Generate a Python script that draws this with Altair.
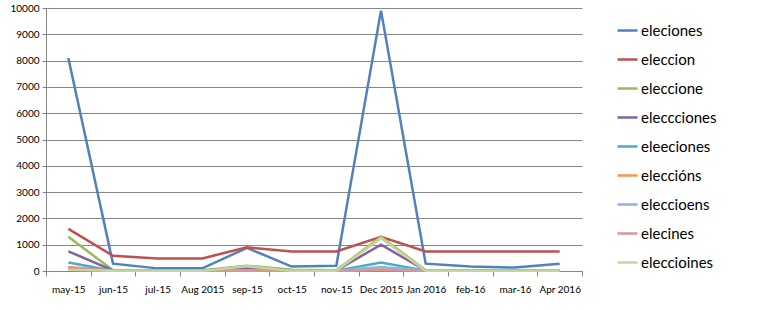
import altair as alt
import pandas as pd

months = ["may-15", "jun-15", "jul-15", "Aug 2015", "sep-15", "oct-15", "nov-15",
          "Dec 2015", "Jan 2016", "feb-16", "mar-16", "Apr 2016"]
series = ["eleciones", "eleccion", "eleccione", "eleccciones", "eleeciones",
          "eleccións", "eleccioens", "elecines", "eleccioines"]
colors = ["#4F81BD", "#C0504D", "#9BBB59", "#8064A2", "#4BACC6",
          "#F79646", "#95B3D7", "#D99694", "#C3D69B"]

eleciones   = [8100, 280, 100, 100, 880, 170, 200, 9900, 280, 170, 130, 280]
eleccion    = [1600, 580, 480, 480, 900, 740, 740, 1300, 740, 740, 740, 740]
eleccione   = [1300, 30, 30, 30, 200, 50, 30, 1300, 30, 30, 30, 30]
eleccciones = [750, 20, 20, 20, 100, 20, 20, 1000, 20, 20, 20, 20]
eleeciones  = [320, 10, 10, 10, 30, 10, 10, 320, 10, 10, 10, 10]
eleccions   = [150, 5, 5, 5, 20, 5, 5, 60, 5, 5, 5, 5]
eleccioens  = [80, 5, 5, 5, 20, 5, 5, 150, 5, 5, 5, 5]
elecines    = [120, 5, 5, 5, 10, 5, 5, 50, 5, 5, 5, 5]
eleccioines = [50, 5, 5, 5, 180, 5, 5, 1250, 5, 5, 5, 5]

values = [eleciones, eleccion, eleccione, eleccciones, eleeciones,
          eleccions, eleccioens, elecines, eleccioines]

rows = []
for s, vals in zip(series, values):
    for m, v in zip(months, vals):
        rows.append({"month": m, "series": s, "value": v})
df = pd.DataFrame(rows)
df["order"] = df["series"].map({s: i for i, s in enumerate(series)})

font = "Lato"

chart = alt.Chart(df).mark_line(strokeWidth=2.5).encode(
    x=alt.X("month:N", sort=months, title=None,
            scale=alt.Scale(type="band", paddingInner=0, paddingOuter=0),
            axis=alt.Axis(labelAngle=0, labelOverlap=False, tickBand="extent",
                          domainColor="#868686", tickColor="#868686", tickSize=5,
                          labelPadding=8, labelFontSize=10, labelColor="#000000",
                          labelFont=font, grid=False)),
    y=alt.Y("value:Q", title=None,
            scale=alt.Scale(domain=[0, 10000], nice=False),
            axis=alt.Axis(values=list(range(0, 10001, 1000)), format="d",
                          gridColor="#868686",
                          domainColor="#868686", tickColor="#868686", tickSize=4,
                          labelFontSize=10, labelColor="#000000", labelFont=font,
                          labelPadding=3)),
    color=alt.Color("series:N", sort=series,
                    scale=alt.Scale(domain=series, range=colors),
                    legend=alt.Legend(title=None, orient="none", legendX=570, legendY=11,
                                      symbolType="stroke", symbolStrokeWidth=2.5,
                                      symbolSize=400, labelFontSize=15, labelFont=font,
                                      labelColor="#000000", rowPadding=9,
                                      labelOffset=2)),
    order="order:Q",
).properties(
    width=536, height=263,
    padding={"left": 46, "top": 8, "right": 176, "bottom": 39},
    autosize=alt.AutoSizeParams(type="none"),
).configure_view(stroke=None)

chart.save("out.html", embed_options={"renderer": "svg", "actions": False})
